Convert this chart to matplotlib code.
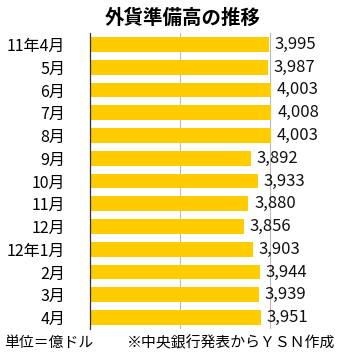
import matplotlib
matplotlib.use('Agg')
from matplotlib import pyplot as plt

plt.rcParams['font.family'] = ['Noto Sans CJK JP', 'DejaVu Sans']

months = ['11年4月', '5月', '6月', '7月', '8月', '9月', '10月', '11月', '12月',
          '12年1月', '2月', '3月', '4月']
reserves = [3995, 3987, 4003, 4008, 4003, 3892, 3933, 3880, 3856, 3903, 3944, 3939, 3951]

fig = plt.figure(figsize=(3.53, 3.63), dpi=100)
ax = fig.add_axes([0.255, 0.094, 0.745, 0.815])

pos = list(range(len(months)))
ax.barh(pos, reserves, height=0.65, color='#FFCC00', zorder=2)
for p, v in zip(pos, reserves):
    ax.text(v + 32, p, '{:,}'.format(v), va='center', ha='left', fontsize=12, color='#111111')

ax.set_xlim(3000, 4461)
ax.set_ylim(12.5, -0.5)
ax.set_xticks([3500, 4000])
ax.grid(axis='x', color='#bbbbbb', linewidth=0.8, zorder=1)
ax.set_xticklabels([])
ax.tick_params(axis='x', length=0)
ax.tick_params(axis='y', length=0, pad=18, labelsize=11.5)
ax.set_yticks(pos)
ax.set_yticklabels(months)
for s in ['top', 'right', 'bottom']:
    ax.spines[s].set_visible(False)
ax.spines['left'].set_color('#333333')
ax.spines['left'].set_linewidth(0.9)

fig.text(0.518, 0.95, '外貨準備高の推移', ha='center', va='center', fontsize=14, fontweight='bold')
fig.text(0.012, 0.055, '単位＝億ドル', ha='left', va='center', fontsize=10.7)
fig.text(0.36, 0.055, '※中央銀行発表からＹＳＮ作成', ha='left', va='center', fontsize=10.7)

fig.savefig('out.png', dpi=100)
